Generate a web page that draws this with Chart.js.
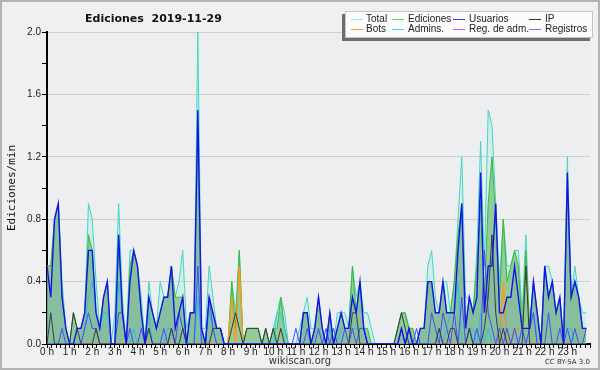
<!DOCTYPE html>
<html>
<head>
<meta charset="utf-8">
<script src="https://cdn.jsdelivr.net/npm/chart.js@4.4.1/dist/chart.umd.min.js"></script>
<style>
  html, body { margin: 0; padding: 0; background: #f0f0f0; }
  #wrap { width: 600px; height: 370px; }
</style>
</head>
<body>
<div id="wrap"><canvas id="chart" width="600" height="370"></canvas></div>
<script>
/* Edits per minute, 10-minute buckets (6 per hour), 2019-11-29 */
var hourLabels = ['0 h','1 h','2 h','3 h','4 h','5 h','6 h','7 h','8 h','9 h','10 h','11 h',
  '12 h','13 h','14 h','15 h','16 h','17 h','18 h','19 h','20 h','21 h','22 h','23 h'];
var yTickLabels = ['0.0', '0.4', '0.8', '1.2', '1.6', '2.0'];

var total = [
  0.5,0.5,0.8,0.9,0.4,0.1,  0,0.2,0.1,0.1,0.2,0.9,
  0.8,0.4,0.1,0.3,0.4,0,    0.2,0.9,0.3,0,0.6,0.6,
  0.5,0.3,0,0.4,0.2,0.1,    0.4,0.3,0.3,0.5,0.3,0.4,
  0.6,0.1,0.2,0.2,2.0,0.1,  0.1,0.5,0.3,0.1,0.1,0,
  0,0.4,0.2,0.6,0,0.1,      0.1,0.1,0.1,0,0.1,0,
  0.1,0.2,0.3,0.2,0,0,      0,0.1,0.2,0.3,0.1,0.1,
  0.3,0.1,0,0.2,0,0.2,      0.2,0.2,0.1,0.5,0.3,0.4,
  0.2,0.2,0.1,0,0,0,        0,0,0,0.1,0.2,0.2,
  0.1,0.1,0,0.1,0.1,0.5,    0.6,0.3,0.2,0.4,0.4,0.2,
  0.4,0.8,1.2,0.3,0.3,0.2,  0.6,1.3,0.5,1.5,1.4,0.9,
  0.4,0.8,0.5,0.5,0.6,0.6,  0.2,0.7,0.1,0.4,0.2,0,
  0.5,0.5,0.4,0.2,0.3,0,    1.2,0.3,0.5,0.3,0.2,0.2
];
var ediciones = [
  0.5,0.5,0.8,0.9,0.3,0.1,  0,0.2,0.1,0.1,0.2,0.7,
  0.6,0.2,0.1,0.3,0.4,0,    0,0.7,0.2,0,0.5,0.6,
  0.5,0.2,0,0.3,0.2,0.1,    0.2,0.3,0.3,0.5,0.3,0.3,
  0.3,0,0.2,0.2,1.4,0.1,    0,0.3,0.2,0.1,0.1,0,
  0,0.4,0.1,0.6,0,0.1,      0.1,0.1,0.1,0,0.1,0,
  0.1,0.1,0.3,0.1,0,0,      0,0,0.2,0.2,0,0.1,
  0.3,0.1,0,0.2,0,0.1,      0.2,0.1,0.1,0.5,0.2,0.4,
  0.1,0.1,0,0,0,0,          0,0,0,0.1,0.2,0.2,
  0.1,0.1,0,0.1,0.1,0.4,    0.4,0.2,0.2,0.4,0.2,0.2,
  0.4,0.7,0.9,0.1,0.3,0.2,  0.5,0.9,0.3,0.9,1.2,0.8,
  0.3,0.8,0.4,0.5,0.6,0.5,  0.1,0.6,0.1,0.4,0.2,0,
  0.5,0.3,0.4,0.2,0.3,0,    1.0,0.3,0.4,0.3,0.1,0.1
];
var usuarios = [
  0.5,0.3,0.8,0.9,0.3,0.1,  0,0,0.1,0.1,0.2,0.6,
  0.6,0.2,0.1,0.3,0.4,0,    0,0.7,0.2,0,0.4,0.6,
  0.5,0.2,0,0.3,0.2,0.1,    0.2,0.3,0.3,0.5,0.1,0.2,
  0.3,0,0.2,0.2,1.5,0.1,    0,0.3,0.2,0.1,0.1,0,
  0,0,0,0,0,0,              0,0,0,0,0,0,
  0,0,0,0,0,0,              0,0,0.2,0.2,0,0.1,
  0.3,0.1,0,0.2,0,0.1,      0.2,0.1,0.1,0.3,0.2,0.4,
  0.1,0,0,0,0,0,            0,0,0,0,0.1,0,
  0.1,0,0,0.1,0.1,0.4,      0.4,0.2,0.2,0.4,0.2,0.2,
  0.2,0.6,0.9,0.1,0.3,0.2,  0.3,1.1,0.2,0.5,0.5,0.9,
  0.2,0.2,0.3,0.3,0.5,0.3,  0.1,0.1,0.1,0.4,0.2,0,
  0.5,0.3,0.4,0.2,0.3,0,    1.1,0.3,0.4,0.3,0.1,0.1
];
var ip = [
  0,0.2,0,0,0,0,            0,0.2,0.1,0,0,0,
  0,0.1,0,0,0,0,            0,0,0,0,0,0,
  0,0,0,0.1,0,0,            0,0,0,0.1,0,0,
  0.1,0,0,0,0,0,            0,0,0.1,0.1,0.1,0,
  0,0.1,0.2,0.1,0,0.1,      0.1,0.1,0.1,0,0.1,0,
  0.1,0,0.1,0,0,0,          0,0,0,0,0,0,
  0,0,0,0,0,0,              0,0,0,0.2,0.2,0,
  0,0,0,0,0,0,              0,0,0,0.1,0.2,0.1,
  0,0,0,0,0,0,              0,0,0.1,0,0,0.1,
  0.1,0,0,0,0.1,0,          0,0,0.1,0.3,0.7,0.2,
  0,0.1,0,0,0,0,            0,0.5,0,0,0,0,
  0,0,0,0,0,0,              0,0,0,0,0,0
];
var bots = [
  0,0,0,0,0,0,  0,0,0,0,0,0,  0,0,0,0,0,0,  0,0,0,0,0,0,
  0,0,0,0,0,0,  0,0,0,0,0,0,  0,0,0,0,0,0,  0,0,0,0,0,0,
  0,0.3,0,0.5,0,0,  0,0,0,0,0,0,  0,0,0,0,0,0,  0,0,0,0,0,0,
  0,0,0,0,0,0,  0,0,0,0,0,0,  0,0,0,0,0,0,  0,0,0,0,0,0,
  0,0,0,0,0,0,  0,0,0,0,0,0,  0,0,0,0,0,0,  0,0,0,0,0,0,
  0,0.4,0,0,0.1,0.1,  0.1,0,0,0,0,0,  0,0,0,0,0,0,  0,0,0,0,0,0
];
var admins = [
  0,0,0,0,0,0,              0,0,0,0,0.1,0.3,
  0.4,0.2,0.1,0.2,0.2,0,    0,0.4,0.2,0,0,0.1,
  0,0,0,0.2,0,0,            0,0,0.1,0.1,0,0,
  0,0,0,0,0.3,0,            0,0.2,0.1,0,0,0,
  0,0,0,0,0,0,              0,0,0,0,0,0,
  0,0.2,0.2,0.1,0,0,        0,0,0,0,0,0,
  0,0,0,0.1,0,0,            0.1,0.1,0.1,0.1,0.1,0.1,
  0.1,0,0,0,0,0,            0,0,0,0,0,0,
  0,0,0,0,0,0,              0,0,0.1,0,0.1,0.2,
  0.2,0.4,0,0,0.1,0.1,      0,0.2,0,0.1,0,0,
  0.1,0.1,0.1,0,0,0,        0.1,0,0.1,0.2,0,0,
  0,0,0,0,0,0,              0.1,0.1,0,0,0,0
];
var regAdm = [
  0,0,0,0,0,0,  0,0,0,0,0,0,  0,0,0,0,0,0,  0,0,0,0,0,0,
  0,0,0,0,0,0,  0,0,0,0,0,0,  0,0,0,0,0,0,  0,0,0,0,0,0,
  0,0,0,0,0,0,  0,0,0,0,0,0,  0,0,0,0,0,0,  0,0,0,0,0,0,
  0,0,0,0,0,0,  0,0,0,0,0,0,  0,0,0,0,0,0,  0,0,0,0,0,0,
  0,0,0,0,0,0,  0,0,0.1,0,0,0,  0,0,0,0,0,0,  0,0,0,0,0,0,
  0,0,0,0,0,0,  0,0,0,0,0,0,  0,0,0,0,0,0,  0,0,0,0,0,0
];
var registros = [
  0,0,0,0,0.1,0,            0,0,0,0,0.1,0.2,
  0.1,0.1,0,0,0,0,          0,0.2,0.2,0,0.1,0,
  0,0.1,0,0.1,0,0,          0,0.1,0,0.1,0,0.2,
  0.1,0,0,0,0.5,0,          0,0.3,0.1,0,0,0,
  0,0,0,0,0,0,              0,0,0,0,0,0,
  0,0,0,0,0,0,              0.1,0,0,0.1,0,0,
  0.1,0,0.1,0,0.1,0,        0,0.1,0,0.1,0,0.1,
  0.1,0,0,0,0,0,            0,0,0,0,0.1,0,
  0.1,0,0.1,0,0,0,          0.2,0.1,0,0.2,0.1,0,
  0.2,0,0.3,0,0.1,0,        0.1,0,0.6,0.2,0.1,0,
  0.1,0,0.1,0,0.1,0,        0.1,0,0.1,0.2,0,0,
  0,0.2,0,0,0.1,0,          0.1,0,0.1,0,0,0.1
];

var POINTS_PER_HOUR = 6;

function toPoints(values) {
  return values.map(function (v, i) { return { x: i / POINTS_PER_HOUR, y: v }; });
}

function series(label, values, color, legendColor, opts) {
  var ds = {
    label: label,
    data: toPoints(values),
    borderColor: color,
    legendColor: legendColor,
    borderWidth: 1,
    pointRadius: 0,
    tension: 0,
    fill: false
  };
  for (var k in opts) ds[k] = opts[k];
  return ds;
}

var datasets = [
  series('Total', total, '#44d6c6', '#a4e8e6', { fill: 'origin', backgroundColor: 'rgba(190,238,228,0.6)', order: 8 }),
  series('Ediciones', ediciones, '#3cb83c', '#6fcf6f', { fill: 'origin', backgroundColor: 'rgba(110,185,110,0.65)', order: 7 }),
  series('Usuarios', usuarios, '#1414e6', '#3a3aee', { borderWidth: 1.4, fill: 'origin', backgroundColor: 'rgba(60,100,200,0.12)', order: 1 }),
  series('IP', ip, '#383838', '#333333', { order: 2 }),
  series('Bots', bots, '#ff9a1a', '#ffa030', { borderWidth: 1.4, order: 5 }),
  series('Admins.', admins, '#2ecbe0', '#44d4e6', { order: 4 }),
  series('Reg. de adm.', regAdm, '#cc44ee', '#dd55ff', { order: 6 }),
  series('Registros', registros, '#4a4aff', '#7474ff', { order: 3 })
];

var decor = {
  id: 'decor',
  beforeDraw: function (chart) {
    var c = chart.ctx, a = chart.chartArea;
    c.save();
    c.fillStyle = '#f0f0f0';
    c.fillRect(0, 0, chart.width, chart.height);
    c.fillStyle = '#edeef0';
    c.fillRect(a.left, a.top, a.right - a.left, a.bottom - a.top);
    c.restore();
  },
  afterDraw: function (chart) {
    var c = chart.ctx;
    c.save();

    // frame
    c.strokeStyle = '#b4b4b4';
    c.lineWidth = 2;
    c.strokeRect(1, 1, chart.width - 2, chart.height - 2);

    // title
    c.fillStyle = '#111';
    c.font = 'bold 11px "DejaVu Sans"';
    c.textBaseline = 'middle';
    c.textAlign = 'left';
    c.fillText('Ediciones  2019-11-29', 85, 19);

    // legend box with shadow
    c.fillStyle = '#6e6e6e';
    c.fillRect(342, 14, 248, 27);
    c.fillStyle = '#fbfbfb';
    c.fillRect(345, 11, 248, 27);
    c.strokeStyle = '#c4c4c4';
    c.lineWidth = 1;
    c.strokeRect(345.5, 11.5, 247, 26);

    var swatchX = [351, 392, 453, 529];
    var textX = [366, 408, 469, 545];
    var rowY = [19, 29];
    c.font = '10px "Liberation Sans"';
    c.textBaseline = 'middle';
    chart.data.datasets.forEach(function (ds, i) {
      var col = i % 4, row = Math.floor(i / 4);
      c.strokeStyle = ds.legendColor;
      c.lineWidth = 1;
      c.beginPath();
      c.moveTo(swatchX[col], rowY[row] + 0.5);
      c.lineTo(swatchX[col] + 12, rowY[row] + 0.5);
      c.stroke();
      c.fillStyle = '#222';
      c.fillText(ds.label, textX[col], rowY[row]);
    });

    // y axis title
    c.save();
    c.translate(12, 188);
    c.rotate(-Math.PI / 2);
    c.textAlign = 'center';
    c.textBaseline = 'middle';
    c.font = '11px "DejaVu Sans Mono"';
    c.fillStyle = '#111';
    c.fillText('Ediciones/min', 0, 0);
    c.restore();

    // footer
    c.textAlign = 'center';
    c.textBaseline = 'middle';
    c.font = '10px "DejaVu Sans"';
    c.fillStyle = '#333';
    c.fillText('wikiscan.org', 300, 361);
    c.textAlign = 'right';
    c.font = '7px "DejaVu Sans"';
    c.fillText('CC BY-SA 3.0', 590, 362);

    c.restore();
  }
};

function nearMultiple(v, step) {
  var q = v / step;
  return Math.abs(q - Math.round(q)) < 1e-6;
}

new Chart(document.getElementById('chart'), {
  type: 'line',
  data: { datasets: datasets },
  options: {
    responsive: false,
    devicePixelRatio: 1,
    animation: false,
    layout: { padding: { left: 0, top: 32, right: 10, bottom: 0 } },
    plugins: { legend: { display: false }, tooltip: { enabled: false }, title: { display: false } },
    scales: {
      x: {
        type: 'linear',
        min: 0,
        max: 24,
        afterFit: function (scale) { scale.height = 26; },
        border: { color: '#000', width: 2 },
        grid: { drawOnChartArea: false, tickColor: '#000', tickLength: 4 },
        ticks: {
          stepSize: 0.2,
          maxTicksLimit: 200,
          autoSkip: false,
          maxRotation: 0,
          minRotation: 0,
          padding: -2,
          color: '#222',
          font: { family: 'Liberation Sans', size: 10 },
          callback: function (v) {
            return nearMultiple(v, 1) ? hourLabels[Math.round(v)] || '' : '';
          }
        }
      },
      y: {
        min: 0,
        max: 2,
        afterFit: function (scale) { scale.width = 47; },
        border: { color: '#000', width: 2 },
        grid: {
          color: function (ctx) {
            var v = ctx.tick ? ctx.tick.value : 0;
            return v > 0 && nearMultiple(v, 0.4) ? '#cfcfcf' : 'rgba(0,0,0,0)';
          },
          tickColor: '#000',
          tickLength: 5
        },
        ticks: {
          stepSize: 0.2,
          padding: 1,
          color: '#222',
          font: { family: 'Liberation Sans', size: 10 },
          callback: function (v) {
            return nearMultiple(v, 0.4) ? yTickLabels[Math.round(v / 0.4)] : '';
          }
        }
      }
    }
  },
  plugins: [decor]
});
</script>
</body>
</html>
